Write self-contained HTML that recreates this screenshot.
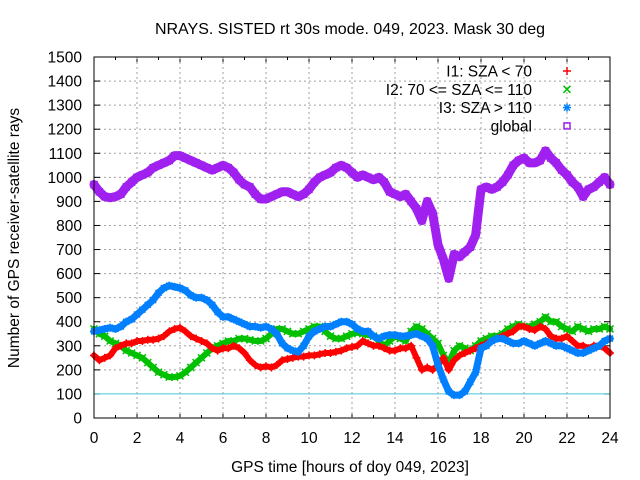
<!DOCTYPE html>
<html><head><meta charset="utf-8"><style>
body{margin:0;background:#fff}
svg{display:block;font-family:"Liberation Sans",sans-serif}
</style></head><body>
<svg id="chart" width="640" height="480" xmlns="http://www.w3.org/2000/svg">
<text x="350" y="34" font-size="16" text-anchor="middle">NRAYS. SISTED rt 30s mode. 049, 2023. Mask 30 deg</text>
<text transform="translate(19,238) rotate(-90)" font-size="15.5" text-anchor="middle">Number of GPS receiver-satellite rays</text>
<text x="350" y="472" font-size="15.5" text-anchor="middle">GPS time [hours of doy 049, 2023]</text>
<g id="grid"></g>
<g id="series"></g>
<g id="legend"></g>
<rect x="94" y="57" width="516" height="361" fill="none" stroke="#000" stroke-width="1"/>
</svg>
<script>
const yTicks=[0,100,200,300,400,500,600,700,800,900,1000,1100,1200,1300,1400,1500];
const xTicks=[0,2,4,6,8,10,12,14,16,18,20,22,24];
const hours=[];for(let i=0;i<=96;i++)hours.push(i*0.25);
const i1=[260,240,250,260,290,300,310,310,320,320,325,325,330,340,360,370,375,360,340,330,320,310,290,280,290,290,300,290,270,240,220,210,215,210,220,240,245,250,255,255,260,260,265,270,270,275,280,290,295,300,320,310,300,300,290,280,280,290,290,300,250,200,210,200,220,250,200,240,260,270,280,290,300,310,320,330,340,350,360,380,380,370,365,380,370,340,330,330,340,320,300,300,290,300,300,290,270];
const i2=[370,350,340,320,310,300,280,270,260,250,230,210,190,180,170,170,175,190,210,230,250,270,290,300,310,320,320,330,330,325,320,320,330,350,370,370,360,350,350,360,370,380,380,360,340,330,330,340,350,355,350,345,340,320,300,320,340,330,320,360,380,370,350,330,310,260,230,280,300,290,280,300,320,330,340,340,350,370,380,390,380,380,390,400,420,400,400,380,370,360,380,370,360,370,370,380,370];
const i3=[360,365,370,375,370,380,400,410,430,450,470,490,520,540,550,545,540,530,510,500,500,490,470,440,420,420,410,400,390,380,380,375,380,370,350,310,290,280,275,300,340,360,370,380,380,390,400,400,390,370,360,360,340,330,340,345,345,340,340,345,350,340,330,300,220,160,110,95,95,110,150,190,290,300,320,330,330,320,310,310,320,310,300,310,320,310,300,300,290,280,270,270,280,290,300,320,330];
const glob=[970,940,920,915,920,930,960,980,1000,1010,1020,1040,1050,1060,1070,1090,1090,1080,1070,1060,1050,1040,1030,1040,1050,1040,1020,990,970,960,930,910,910,920,930,940,940,930,920,930,950,980,1000,1010,1020,1040,1050,1040,1020,1000,1010,1000,990,1000,980,940,930,920,930,900,870,820,900,850,720,660,580,680,670,690,710,760,950,960,950,960,980,1010,1050,1070,1080,1060,1060,1070,1110,1080,1060,1030,1010,980,960,920,950,960,980,1000,970];
const NS="http://www.w3.org/2000/svg";
const X=h=>94+h/24*516, Y=v=>418-v/1500*361;
function mk(t,a,p){const e=document.createElementNS(NS,t);for(const k in a)e.setAttribute(k,a[k]);p.appendChild(e);return e;}
const grid=document.getElementById('grid');
yTicks.forEach(v=>{
  if(v>0&&v<1500&&v!==100){const l=mk('line',{x1:94,x2:610,y1:Y(v),y2:Y(v),stroke:'#a0a0a0','stroke-dasharray':'2,3'},grid);
  
  }
  mk('line',{x1:94,x2:100,y1:Y(v),y2:Y(v),stroke:'#000'},grid);
  mk('line',{x1:604,x2:610,y1:Y(v),y2:Y(v),stroke:'#000'},grid);
  const t=mk('text',{x:82,y:Y(v)+5.5,'font-size':15.5,'text-anchor':'end'},grid);t.textContent=v;
  
  
});
const ref=mk('line',{x1:94,x2:610,y1:Y(100),y2:Y(100),stroke:'#40c8d8'},grid);


for(let h=0;h<=24;h++){const big=h%2===0;
  mk('line',{x1:X(h),x2:X(h),y1:418,y2:big?412:415,stroke:'#000'},grid);
  mk('line',{x1:X(h),x2:X(h),y1:57,y2:big?63:60,stroke:'#000'},grid);}
xTicks.forEach(h=>{
  if(h>0&&h<24){const l=mk('line',{x1:X(h),x2:X(h),y1:57,y2:418,stroke:'#a0a0a0','stroke-dasharray':'2,3'},grid);
  
  }
  const t=mk('text',{x:X(h),y:443,'font-size':15.5,'text-anchor':'middle'},grid);t.textContent=h;
  
  
});
const ser=document.getElementById('series');
function marker(type,x,y,c,p){
  const g=mk('g',{stroke:c,fill:'none','stroke-width':1.5},p);
  if(type==='plus'){mk('line',{x1:x-4,x2:x+4,y1:y,y2:y},g);mk('line',{x1:x,x2:x,y1:y-4,y2:y+4},g);}
  else if(type==='x'){mk('line',{x1:x-3.5,x2:x+3.5,y1:y-3.5,y2:y+3.5},g);mk('line',{x1:x-3.5,x2:x+3.5,y1:y+3.5,y2:y-3.5},g);}
  else if(type==='star'){mk('line',{x1:x-4,x2:x+4,y1:y,y2:y},g);mk('line',{x1:x,x2:x,y1:y-4,y2:y+4},g);mk('line',{x1:x-3,x2:x+3,y1:y-3,y2:y+3},g);mk('line',{x1:x-3,x2:x+3,y1:y+3,y2:y-3},g);}
  else {mk('rect',{x:x-3,y:y-3,width:6,height:6},g);}
  return g;
}
function series(name,data,color,type,w){
  const g=mk('g',{},ser);
  
  
  const pts=data.map((v,i)=>X(hours[i])+','+Y(v)).join(' ');
  mk('polyline',{points:pts,fill:'none',stroke:color,'stroke-width':w,'stroke-linejoin':'round','stroke-linecap':'round'},g);
  data.forEach((v,i)=>{const m=marker(type,X(hours[i]),Y(v),color,g);
    
    });
}
series('series-global',glob,'#a020f0','sq',9);
series('series-i2',i2,'#00c000','x',6);
series('series-i1',i1,'#ff0000','plus',6);
series('series-i3',i3,'#0080ff','star',7);
const leg=document.getElementById('legend');
[['I1: SZA < 70','#ff0000','plus'],['I2: 70 <= SZA <= 110','#00c000','x'],['I3: SZA > 110','#0080ff','star'],['global','#a020f0','sq']].forEach((e,k)=>{
  const y=71+k*18.3;
  const t=mk('text',{x:532,y:y+5.5,'font-size':15.5,'text-anchor':'end'},leg);t.textContent=e[0];
  
  
  marker(e[2],567,y,e[1],leg);
});
</script>
</body></html>
